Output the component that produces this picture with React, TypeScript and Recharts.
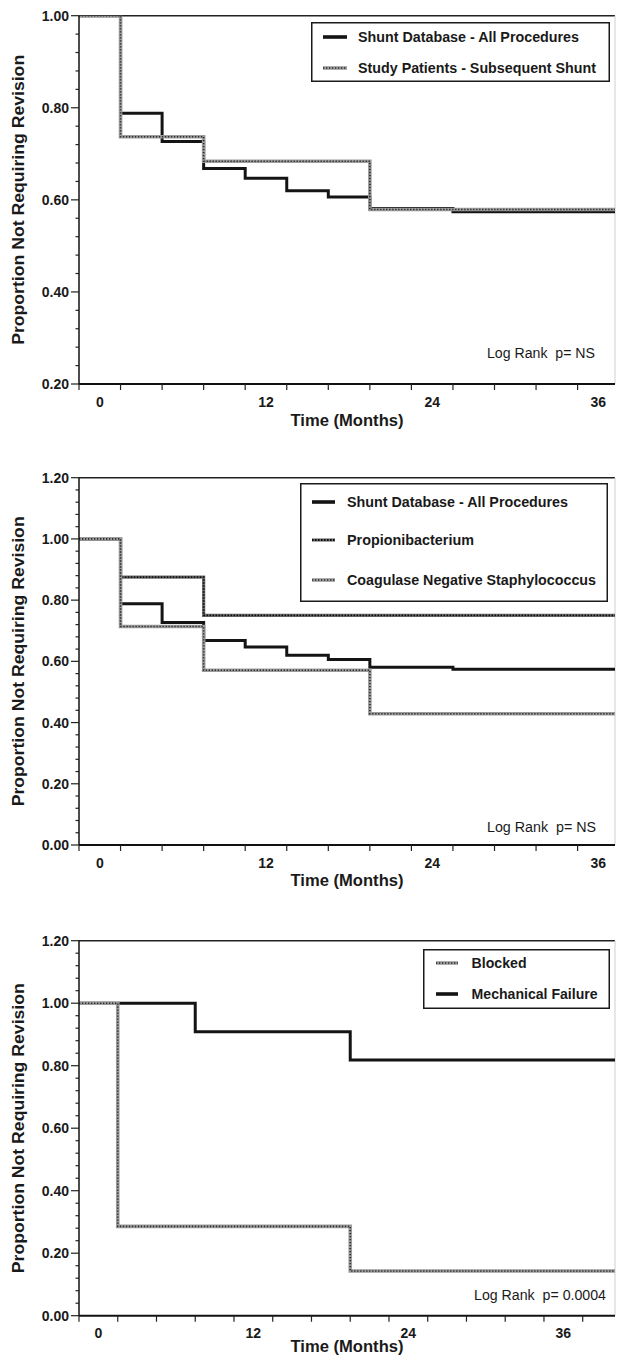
import React from 'react'
import { LineChart, Line, XAxis, YAxis, ReferenceLine, Legend } from 'recharts'

const FONT = '"Liberation Sans", Arial, Helvetica, sans-serif'

// panel 1 - shunt database vs study patients
const shuntTimes = [-1.5, 1.5, 4.5, 7.5, 10.5, 13.5, 16.5, 19.5, 25.5]
const shuntValues = [1.0, 0.788, 0.727, 0.668, 0.647, 0.62, 0.606, 0.581, 0.574]
const studyTimes = [-1.5, 1.5, 7.5, 19.5]
const studyValues = [1.0, 0.737, 0.684, 0.579]

// panel 2 - organisms
const propiTimes = [-1.5, 1.5, 7.5]
const propiValues = [1.0, 0.875, 0.75]
const cnsTimes = [-1.5, 1.5, 7.5, 19.5]
const cnsValues = [1.0, 0.714, 0.571, 0.429]

// panel 3 - failure type
const blockedTimes = [-1.5, 1.5, 19.5]
const blockedValues = [1.0, 0.286, 0.143]
const mechTimes = [-1.5, 7.5, 19.5]
const mechValues = [1.0, 0.909, 0.818]

// axes
const monthLabels = [0, 12, 24, 36]
const monthMarks = [-1.5, 1.5, 4.5, 7.5, 10.5, 13.5, 16.5, 19.5, 22.5, 25.5, 28.5, 31.5, 34.5, 37.5, 40.5]
const yLabelsTop = [0.2, 0.4, 0.6, 0.8, 1.0]
const yLabelsLow = [0, 0.2, 0.4, 0.6, 0.8, 1.0, 1.2]

type Look = 'solid' | 'grey' | 'dark'
type Stroke = { stroke: string; width: number; dash?: string }

const LOOKS: Record<Look, Stroke[]> = {
  solid: [{ stroke: '#141414', width: 3 }],
  grey: [
    { stroke: '#9c9c9c', width: 3.6 },
    { stroke: '#2a2a2a', width: 1.6, dash: '1.3 1.7' },
  ],
  dark: [
    { stroke: '#6e6e6e', width: 3.2 },
    { stroke: '#0e0e0e', width: 1.8, dash: '1.6 1.4' },
  ],
}

interface Series {
  name: string
  times: number[]
  values: number[]
  look: Look
}

interface PanelCfg {
  top: number
  height: number
  plotTop: number
  plotBottom: number
  xMax: number
  yMin: number
  yMax: number
  yLabels: number[]
  series: Series[]
  legend: { left: number; top: number; width: number; height: number; rows: number[]; sample: [number, number]; textX: number; lens: number[] }
  titleY: number
  logRank: { text: string; x: number; y: number; len: number }
}

function steps(times: number[], values: number[], end: number) {
  const rows = times.map((t, i) => ({ t, v: values[i] }))
  rows.push({ t: end, v: values[values.length - 1] })
  return rows
}

function withMinor(labels: number[]) {
  const out: number[] = []
  labels.forEach((l, i) => {
    out.push(l)
    if (i < labels.length - 1) {
      const step = (labels[i + 1] - l) / 5
      for (let k = 1; k < 5; k++) out.push(l + step * k)
    }
  })
  return out
}

const panels: PanelCfg[] = [
  {
    top: 0,
    height: 440,
    plotTop: 15.7,
    plotBottom: 384,
    xMax: 37.2,
    yMin: 0.2,
    yMax: 1.0,
    yLabels: yLabelsTop,
    series: [
      { name: 'Shunt Database - All Procedures', times: shuntTimes, values: shuntValues, look: 'solid' },
      { name: 'Study Patients - Subsequent Shunt', times: studyTimes, values: studyValues, look: 'grey' },
    ],
    legend: { left: 311, top: 22, width: 299, height: 60, rows: [15, 46], sample: [12, 36], textX: 47, lens: [221, 238] },
    titleY: 420,
    logRank: { text: 'Log Rank\u00a0 p= NS', x: 487, y: 352.7, len: 108 },
  },
  {
    top: 440,
    height: 450,
    plotTop: 477.7,
    plotBottom: 845,
    xMax: 37.2,
    yMin: 0,
    yMax: 1.2,
    yLabels: yLabelsLow,
    series: [
      { name: 'Shunt Database - All Procedures', times: shuntTimes, values: shuntValues, look: 'solid' },
      { name: 'Propionibacterium', times: propiTimes, values: propiValues, look: 'dark' },
      { name: 'Coagulase Negative Staphylococcus', times: cnsTimes, values: cnsValues, look: 'grey' },
    ],
    legend: { left: 300, top: 43, width: 308, height: 119, rows: [19, 57, 97], sample: [12, 35], textX: 47, lens: [221, 127, 249] },
    titleY: 440,
    logRank: { text: 'Log Rank\u00a0 p= NS', x: 487, y: 386.7, len: 109 },
  },
  {
    top: 890,
    height: 472,
    plotTop: 940.7,
    plotBottom: 1315.7,
    xMax: 40,
    yMin: 0,
    yMax: 1.2,
    yLabels: yLabelsLow,
    series: [
      { name: 'Blocked', times: blockedTimes, values: blockedValues, look: 'grey' },
      { name: 'Mechanical Failure', times: mechTimes, values: mechValues, look: 'solid' },
    ],
    legend: { left: 423, top: 59, width: 187, height: 60, rows: [14, 45], sample: [13, 35], textX: 48.6, lens: [55, 126] },
    titleY: 456,
    logRank: { text: 'Log Rank\u00a0 p= 0.0004', x: 474, y: 405, len: 132 },
  },
]

function renderXTick(p: any) {
  const v = p.payload.value
  if (monthLabels.includes(v)) {
    return (
      <text x={p.x} y={p.y + 17.5} textAnchor="middle" dominantBaseline="central" fontFamily={FONT} fontSize={14} fontWeight={700} fill="#1a1a1a">
        {v}
      </text>
    )
  }
  return <line x1={p.x} x2={p.x} y1={p.y} y2={p.y + 6} stroke="#222" strokeWidth={1.2} />
}

function renderYTick(p: any, labels: number[]) {
  const v = p.payload.value
  const major = labels.some((l) => Math.abs(l - v) < 1e-6)
  return (
    <g>
      <line x1={p.x - (major ? 8 : 3.5)} x2={p.x} y1={p.y} y2={p.y} stroke="#222" strokeWidth={1.2} />
      {major && (
        <text x={p.x - 10} y={p.y} textAnchor="end" dominantBaseline="central" fontFamily={FONT} fontSize={14} fontWeight={700} fill="#1a1a1a">
          {v.toFixed(2)}
        </text>
      )}
    </g>
  )
}

function LegendBox({ cfg }: { cfg: PanelCfg }) {
  const lg = cfg.legend
  return (
    <svg width={lg.width} height={lg.height} style={{ display: 'block' }}>
      <rect x={0.75} y={0.75} width={lg.width - 1.5} height={lg.height - 1.5} fill="#fff" stroke="#1a1a1a" strokeWidth={1.5} />
      {cfg.series.map((s, i) => (
        <g key={s.name}>
          {LOOKS[s.look].map((st, j) => (
            <line
              key={j}
              x1={lg.sample[0]}
              x2={lg.sample[1]}
              y1={lg.rows[i]}
              y2={lg.rows[i]}
              stroke={st.stroke}
              strokeWidth={s.look === 'solid' ? 3.6 : st.width}
              strokeDasharray={st.dash}
            />
          ))}
          <text
            x={lg.textX}
            y={lg.rows[i]}
            dominantBaseline="central"
            fontFamily={FONT}
            fontSize={14}
            fontWeight={700}
            fill="#1a1a1a"
            textLength={lg.lens[i]}
            lengthAdjust="spacingAndGlyphs"
          >
            {s.name}
          </text>
        </g>
      ))}
    </svg>
  )
}

function Panel({ cfg }: { cfg: PanelCfg }) {
  const yTicks = withMinor(cfg.yLabels)
  const xTicks = [...monthMarks.filter((m) => m <= cfg.xMax), ...monthLabels].sort((a, b) => a - b)
  const ordered = [...cfg.series].sort((a, b) => (a.look === 'solid' ? 0 : 1) - (b.look === 'solid' ? 0 : 1))
  const lines = ordered.flatMap((s) =>
    LOOKS[s.look].map((st, j) => (
      <Line
        key={`${s.name}-${j}`}
        data={steps(s.times, s.values, cfg.xMax)}
        dataKey="v"
        name={s.name}
        type="stepAfter"
        stroke={st.stroke}
        strokeWidth={st.width}
        strokeDasharray={st.dash}
        dot={false}
        activeDot={false}
        legendType="none"
        isAnimationActive={false}
      />
    ))
  )
  const yMid = (cfg.plotTop + cfg.plotBottom) / 2 - cfg.top

  return (
    <div style={{ position: 'absolute', left: 0, top: cfg.top, width: 617, height: cfg.height }}>
      <LineChart
        width={617}
        height={cfg.height}
        margin={{ top: cfg.plotTop - cfg.top, right: 2, left: 19, bottom: cfg.height - (cfg.plotBottom - cfg.top) - 30 }}
      >
        <XAxis
          type="number"
          dataKey="t"
          domain={[-1.5, cfg.xMax]}
          ticks={xTicks}
          interval={0}
          tickSize={0}
          tickMargin={0}
          tickLine={false}
          axisLine={{ stroke: '#111', strokeWidth: 2 }}
          tick={renderXTick}
          height={30}
          allowDataOverflow
        />
        <YAxis
          type="number"
          domain={[cfg.yMin, cfg.yMax]}
          ticks={yTicks}
          interval={0}
          tickSize={0}
          tickMargin={0}
          tickLine={false}
          axisLine={{ stroke: '#111', strokeWidth: 1.5 }}
          tick={(p: any) => renderYTick(p, cfg.yLabels)}
          width={60}
          allowDataOverflow
        />
        <ReferenceLine y={cfg.yMax} stroke="#222" strokeWidth={1.5} />
        <ReferenceLine x={cfg.xMax} stroke="#cfcfcf" strokeWidth={1} />
        {lines}
        <Legend
          layout="horizontal"
          verticalAlign="middle"
          align="center"
          content={() => <LegendBox cfg={cfg} />}
          wrapperStyle={{ left: cfg.legend.left, top: cfg.legend.top, width: cfg.legend.width, height: cfg.legend.height }}
        />
      </LineChart>
      <svg width={617} height={cfg.height} style={{ position: 'absolute', left: 0, top: 0, pointerEvents: 'none' }}>
        <text
          transform={`translate(24, ${yMid}) rotate(-90)`}
          textAnchor="middle"
          fontFamily={FONT}
          fontSize={16}
          fontWeight={700}
          fill="#1a1a1a"
          textLength={290}
          lengthAdjust="spacingAndGlyphs"
        >
          Proportion Not Requiring Revision
        </text>
        <text
          x={347}
          y={cfg.titleY}
          textAnchor="middle"
          dominantBaseline="central"
          fontFamily={FONT}
          fontSize={16}
          fontWeight={700}
          fill="#1a1a1a"
          textLength={113}
          lengthAdjust="spacingAndGlyphs"
        >
          Time (Months)
        </text>
        <text
          x={cfg.logRank.x}
          y={cfg.logRank.y}
          dominantBaseline="central"
          fontFamily={FONT}
          fontSize={14}
          fill="#1a1a1a"
          textLength={cfg.logRank.len}
          lengthAdjust="spacingAndGlyphs"
        >
          {cfg.logRank.text}
        </text>
      </svg>
    </div>
  )
}

export default function App() {
  return (
    <div style={{ position: 'absolute', left: 0, top: 0, width: 617, height: 1362, background: '#fff', overflow: 'hidden' }}>
      {panels.map((p, i) => (
        <Panel key={i} cfg={p} />
      ))}
    </div>
  )
}
